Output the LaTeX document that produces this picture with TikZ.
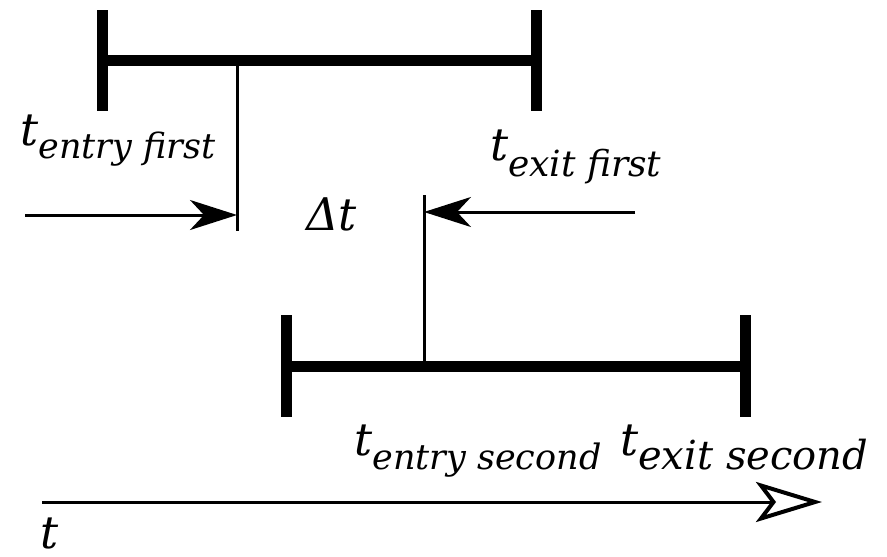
\documentclass[tikz,border=0pt]{standalone}
\usepackage{fontspec}
\setmainfont{DejaVu Serif}
\usetikzlibrary{arrows.meta}
\newcommand\tsub[3][35]{\textit{t}\raisebox{-#3}{\fontsize{#1}{40}\selectfont\textit{#2}}}
\tikzset{
  lbl/.style={anchor=base west,inner sep=0pt,font=\fontsize{45}{52}\selectfont\itshape},
  barline/.style={line width=11pt},
  endtick/.style={line width=11pt},
  thinline/.style={line width=3pt},
  arr/.style={line width=3pt,-{Stealth[length=47pt,width=30pt,inset=14pt]}},
  axisarr/.style={line width=3pt,-{Stealth[open,length=66pt,width=40pt,inset=15pt,line width=4pt]}}
}
\begin{document}
\begin{tikzpicture}[x=1pt,y=-1pt]
\useasboundingbox (0,0) rectangle (887,557);
% first interval
\coordinate (f1) at (102.5,60.5);
\coordinate (f2) at (536,60.5);
\coordinate (f1t) at (102.5,10);
\coordinate (f1b) at (102.5,111);
\coordinate (f2t) at (536,10);
\coordinate (f2b) at (536,111);
\draw[barline] (f1) -- (f2);
\draw[endtick] (f1t) -- (f1b);
\draw[endtick] (f2t) -- (f2b);
\coordinate (ef) at (237,60.5);
\coordinate (efb) at (237,231);
\draw[thinline] (ef) -- (efb);
% second interval
\coordinate (s1) at (286.5,366);
\coordinate (s2) at (745,366);
\coordinate (s1t) at (286.5,315);
\coordinate (s1b) at (286.5,417);
\coordinate (s2t) at (745,315);
\coordinate (s2b) at (745,417);
\draw[barline] (s1) -- (s2);
\draw[endtick] (s1t) -- (s1b);
\draw[endtick] (s2t) -- (s2b);
\coordinate (es) at (424,366);
\coordinate (est) at (424,195);
\draw[thinline] (es) -- (est);
% delta arrows
\coordinate (la) at (25,215);
\coordinate (lb) at (237,215);
\draw[arr] (la) -- (lb);
\coordinate (ra) at (635,212);
\coordinate (rb) at (424,212);
\draw[arr] (ra) -- (rb);
% axis
\coordinate (ax1) at (42,502);
\coordinate (ax2) at (822,502);
\draw[axisarr] (ax1) -- (ax2);
% labels
\node[lbl] (cut) at (-22,55) {!};
\node[lbl] (tef) at (20,145) {\tsub{entry first}{13pt}};
\node[lbl] (txf) at (490,160) {\tsub[36]{exit first}{16pt}};
\node[lbl] (dt) at (306,230) {Δt};
\node[lbl] (tes) at (354,455) {\tsub{entry second}{14pt}};
\node[lbl] (txs) at (620,455) {\tsub[40]{exit second}{14pt}};
\node[lbl] (tax) at (40,548) {t};
\end{tikzpicture}
\end{document}
